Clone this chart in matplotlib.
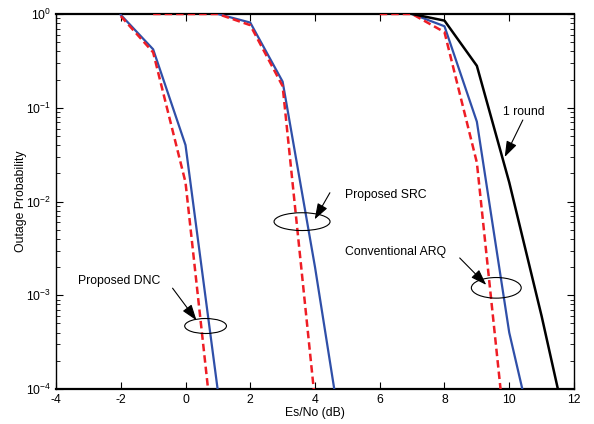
import numpy as np
import matplotlib
matplotlib.use("Agg")
import matplotlib.pyplot as plt
from matplotlib.patches import Ellipse

plt.rcParams['font.family'] = ['Liberation Sans', 'DejaVu Sans']
plt.rcParams['font.size'] = 8.8
plt.rcParams['axes.unicode_minus'] = False

# outage curves (Es/No in dB)
dnc_x = [-2, -1, 0, 1]
dnc_blue = [0.98, 0.42, 0.04, 9.5e-5]
dnc_red = [0.95, 0.39, 0.016, 1.1e-5]

src_x_blue = [1, 2, 3, 4, 5]
src_blue = [1.0, 0.81, 0.19, 2.0e-3, 1.3e-5]
src_x_red = [-1, 0, 1, 2, 3, 4]
src_red = [1.0, 1.0, 1.0, 0.76, 0.17, 7.4e-5]

arq_x_blue = [7, 8, 9, 10, 11]
arq_blue = [1.0, 0.74, 0.071, 4.0e-4, 1.3e-5]
arq_x_red = [6, 7, 8, 9, 10]
arq_red = [1.0, 1.0, 0.64, 0.026, 1.3e-5]

one_x = [7, 8, 9, 10, 11, 12]
one_round = [1.0, 0.85, 0.28, 0.016, 6.0e-4, 1.7e-5]

blue = '#2f4fa8'
red = '#ee1d25'
dash = (0, (3, 1.6))

fig = plt.figure(figsize=(5.94, 4.24), dpi=100)
ax = fig.add_axes([0.0943, 0.0825, 0.872, 0.8845])

ax.semilogy(dnc_x, dnc_blue, color=blue, lw=1.6)
ax.semilogy(dnc_x, dnc_red, color=red, lw=1.8, ls=dash)
ax.semilogy(src_x_blue, src_blue, color=blue, lw=1.6)
ax.semilogy(src_x_red, src_red, color=red, lw=1.8, ls=dash)
ax.semilogy(arq_x_blue, arq_blue, color=blue, lw=1.6)
ax.semilogy(arq_x_red, arq_red, color=red, lw=1.8, ls=dash)
ax.semilogy(one_x, one_round, color='black', lw=1.8)

ax.set_xlim(-4, 12)
ax.set_ylim(1e-4, 1)
ax.set_xticks(np.arange(-4, 13, 2))
ax.set_xlabel('Es/No (dB)', labelpad=1)
ax.set_ylabel('Outage Probability', labelpad=-1)
ax.tick_params(which='both', direction='in', top=True, right=True)
ax.tick_params(which='major', length=5, width=0.8)
ax.tick_params(which='minor', length=3, width=0.6)
for s in ax.spines.values():
    s.set_linewidth(1.0)
    s.set_zorder(1)
for s in ['top', 'bottom']:
    ax.spines[s].set_linewidth(1.6)


def ellipse(xc, yc, w, h_dec):
    # center in data units, width in dB, height in decades
    fx = (xc + 4) / 16
    fy = (np.log10(yc) + 4) / 4
    e = Ellipse((fx, fy), w / 16, h_dec / 4, fill=False, ec='black', lw=0.8,
                transform=ax.transAxes, zorder=5)
    ax.add_patch(e)


ellipse(0.62, 4.7e-4, 1.29, 0.16)
ellipse(3.60, 6.1e-3, 1.73, 0.19)
ellipse(9.60, 1.2e-3, 1.54, 0.22)

arrow = dict(arrowstyle='-|>,head_length=1.1,head_width=0.38', color='black',
             lw=0.8, shrinkA=0, shrinkB=0)

ax.text(-3.32, 1.42e-3, 'Proposed DNC', ha='left', va='center')
ax.annotate('', xy=(0.34, 5.4e-4), xytext=(-0.40, 1.19e-3), arrowprops=arrow)

ax.text(4.92, 1.17e-2, 'Proposed SRC', ha='left', va='center')
ax.annotate('', xy=(3.99, 6.45e-3), xytext=(4.46, 1.24e-2), arrowprops=arrow)

ax.text(4.92, 2.9e-3, 'Conventional ARQ', ha='left', va='center')
ax.annotate('', xy=(9.29, 1.29e-3), xytext=(8.47, 2.5e-3), arrowprops=arrow)

ax.text(9.80, 8.9e-2, '1 round', ha='left', va='center')
ax.annotate('', xy=(9.86, 2.98e-2), xytext=(10.42, 7.4e-2), arrowprops=arrow)

fig.savefig('out.png', dpi=100)
